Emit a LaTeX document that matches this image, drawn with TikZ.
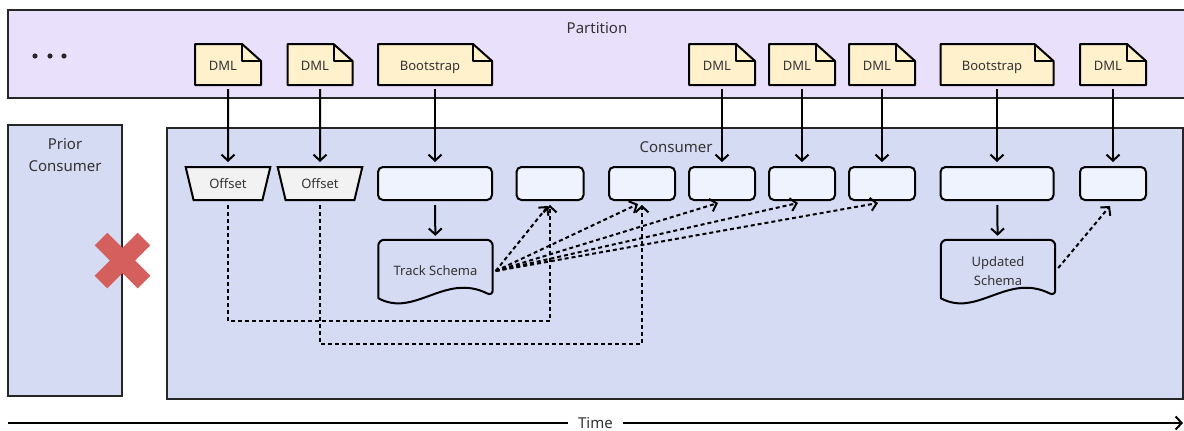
\documentclass[tikz,border=0pt]{standalone}
\usepackage{fontspec}
\setmainfont{Noto Sans}
\usepackage{xcolor}
\usetikzlibrary{arrows.meta,positioning,shapes.geometric,calc}
\definecolor{partfill}{HTML}{E9E1FC}
\definecolor{consfill}{HTML}{D6DBF4}
\definecolor{docfill}{HTML}{FFF1CC}
\definecolor{boxfill}{HTML}{EEF3FD}
\definecolor{offfill}{HTML}{F2F2F2}
\definecolor{crossred}{HTML}{D45F5C}
\definecolor{textgray}{HTML}{333333}
\begin{document}
\begin{tikzpicture}[x=1pt,y=-1pt,font=\fontsize{13}{15}\selectfont,text=textgray,
  frame/.style={draw=black!85,line width=2pt},
  doc/.style={draw=black,line width=2pt,line join=round},
  doclabel/.style={minimum height=38pt,inner sep=0pt,text height=9.5pt,text depth=0pt},
  slot/.style={draw=black,line width=2pt,rounded corners=5pt,fill=boxfill,minimum height=33pt,inner sep=0pt},
  offset/.style={draw=black,line width=2pt,fill=offfill,trapezium,trapezium angle=67,
    shape border rotate=180,trapezium stretches=true,minimum width=85pt,minimum height=33pt,inner sep=0pt},
  schema/.style={minimum width=114pt,minimum height=62pt,inner sep=0pt,align=center,
    font=\fontsize{13}{19}\selectfont},
  flow/.style={line width=2pt,-{Straight Barb[length=6pt,width=13pt]},shorten <=4pt,shorten >=4pt},
  dotflow/.style={line width=2pt,dash pattern=on 4pt off 3pt,-{Straight Barb[length=6pt,width=13pt]}},
  biglabel/.style={font=\fontsize{15}{22}\selectfont,align=center}]
  \useasboundingbox (0,0) rectangle (1184,431);
  \draw[frame,fill=partfill] (8,10) rectangle (1190,98);
  \draw[frame,fill=consfill] (8,125) rectangle (122,396);
  \draw[frame,fill=consfill] (167,128) rectangle (1183,399);
  \node[biglabel] (partlbl) at (597,28) {Partition};
  \node[biglabel] (priorlbl) at (65,155) {Prior\\Consumer};
  \node[biglabel] (conslbl) at (676,147) {Consumer};
  \foreach \x in {35,50,64} \fill[black!85] (\x,56) circle (2.6pt);
  \foreach \n/\x/\w/\t in {dml1/228/66/DML,dml2/320/65/DML,boot1/435/114/Bootstrap,
    dml3/722/66/DML,dml4/802/66/DML,dml5/882/66/DML,boot2/997/113/Bootstrap,dml6/1113/66/DML}{
    \filldraw[doc,fill=docfill] (\x-\w/2,85) -- (\x-\w/2,44) -- (\x+\w/2-19,44)
      -- (\x+\w/2,61) -- (\x+\w/2,85) -- cycle;
    \draw[doc] (\x+\w/2-19,44) -- (\x+\w/2-19,61) -- (\x+\w/2,61);
    \node[doclabel,minimum width=\w pt-10pt] (\n) at (\x-5,66) {\t};
  }
  \node[offset] (off1) at (228,183.5) {Offset};
  \node[offset] (off2) at (320,183.5) {Offset};
  \foreach \n/\x/\w in {b1/435/114,b2/550/67,b3/642/66,b4/722/66,b5/802/66,
    b6/882/66,b7/997/113,b8/1113/66}
    \node[slot,minimum width=\w pt] (\n) at (\x,183.5) {};
  \node[schema] (ts) at (435.5,271) {Track Schema};
  \node[schema] (us) at (998,271) {Updated\\Schema};
  \foreach \n in {ts,us}
    \draw[doc] ($(\n.south west)+(0,-4)$) [rounded corners=6pt] -- (\n.north west)
      -- (\n.north east) -- ($(\n.south east)+(0,-6)$) [sharp corners]
      .. controls ($(\n.south west)+(66.5,-30)$) and ($(\n.south west)+(36.5,16)$)
      .. ($(\n.south west)+(0,-4)$) -- cycle;
  \foreach \d/\b in {dml1/off1,dml2/off2,boot1/b1,dml3/b4,dml4/b5,dml5/b6,boot2/b7,dml6/b8}
    \draw[flow] (\b |- \d.south) -- (\b);
  \draw[flow] (b1) -- (ts);
  \draw[flow] (b7) -- (us);
  \draw[dotflow] ($(off1)+(0,21.5)$) |- ($(b2.south)+(0,120)$) -- ([yshift=-4pt]b2.south);
  \draw[dotflow] ($(off2)+(0,21.5)$) |- ($(b3.south)+(0,143)$) -- ([yshift=-4pt]b3.south);
  \draw[dotflow] ([xshift=3pt]ts.east) -- ([xshift=-2pt,yshift=-5pt]b2.south);
  \draw[dotflow] ([xshift=3pt]ts.east) -- ([xshift=-4pt,yshift=-3pt]b3.south);
  \foreach \b in {b4,b5,b6}
    \draw[dotflow] ([xshift=3pt]ts.east) -- ([xshift=-4pt,yshift=-2pt]\b.south);
  \draw[dotflow] ([xshift=3pt,yshift=3pt]us.east) -- ([xshift=-3pt,yshift=-5pt]b8.south);
  \draw[crossred,line width=18pt] (101,239) -- (144,282) (144,239) -- (101,282);
  \coordinate (t0) at (8,423);
  \coordinate (t1) at (1183,423);
  \draw[line width=2pt,-{Straight Barb[length=6pt,width=13pt]}] (t0) --
    node[fill=white,inner xsep=10pt,font=\fontsize{15}{18}\selectfont] (timelbl) {Time} (t1);
\end{tikzpicture}
\end{document}
